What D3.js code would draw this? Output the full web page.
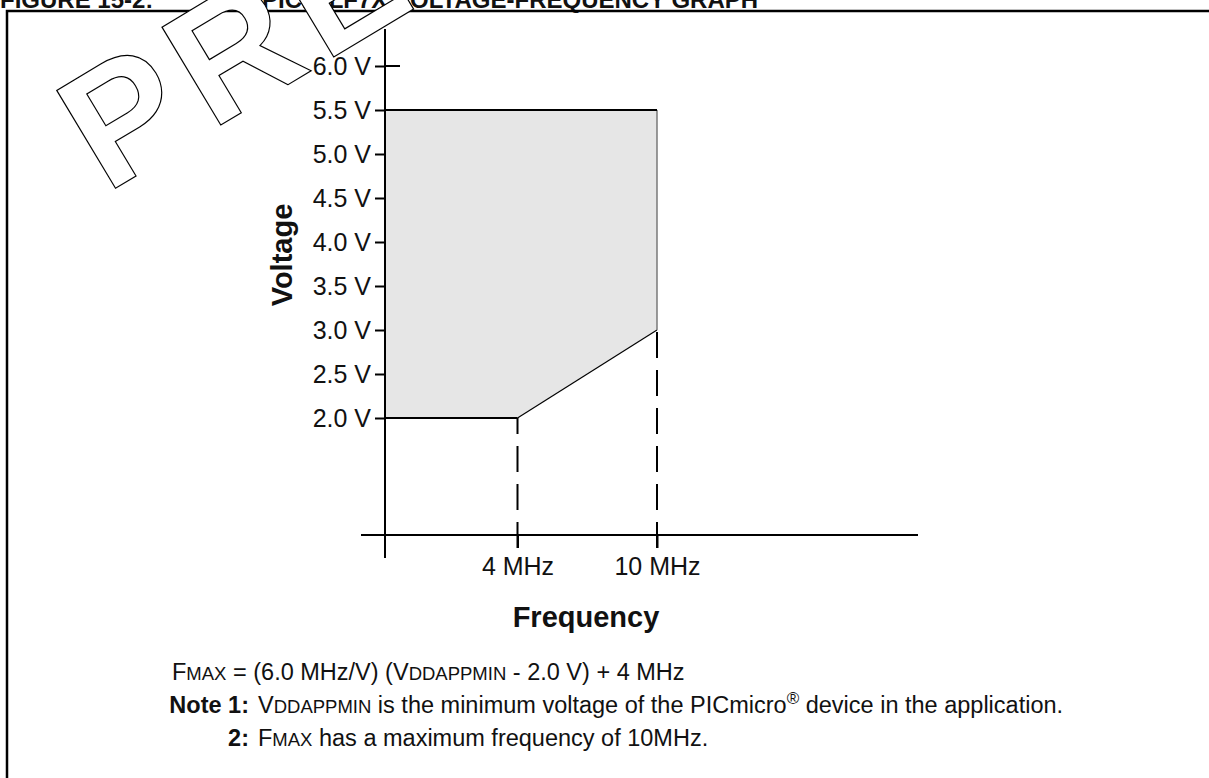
<!DOCTYPE html>
<html>
<head>
<meta charset="utf-8">
<script src="https://cdn.jsdelivr.net/npm/d3@7"></script>
<style>
  html, body { margin: 0; padding: 0; background: #fff; }
  svg { display: block; font-family: "Liberation Sans", Arial, Helvetica, sans-serif; }
</style>
</head>
<body>
<svg id="chart" width="1209" height="778"></svg>
<script>
// Voltage axis ticks (V)
const voltageTicks = [2.0, 2.5, 3.0, 3.5, 4.0, 4.5, 5.0, 5.5, 6.0];
// Frequency axis ticks (MHz) and their labels
const freqTicks = [4, 10];
const freqTickLabels = ["4 MHz", "10 MHz"];
// Corners of the valid operating region (frequency in MHz, voltage in V)
const regionFreq = [0, 4, 10, 10, 0];
const regionVolt = [2.0, 2.0, 3.0, 5.5, 5.5];

const FONT = '"Liberation Sans", Arial, Helvetica, sans-serif';
const svg = d3.select("#chart");

// Schematic axes: frequency is spaced by breakpoint, voltage is linear
const x = d3.scaleLinear().domain([0, 4, 10]).range([385, 517.5, 657]);
const y = d3.scaleLinear().domain([2, 6]).range([418, 66]);
const xAxisY = 535;

const corners = regionFreq.map((f, i) => [x(f), y(regionVolt[i])]);

// Shaded operating region
svg.append("path")
  .attr("d", d3.line()(corners) + "Z")
  .attr("fill", "#e6e6e6")
  .attr("stroke", "none");

// Dashed drop lines from the lower boundary breakpoints to the frequency axis
const drops = [1, 2].map(i => ({ f: regionFreq[i], v: regionVolt[i] }));
svg.selectAll("path.drop")
  .data(drops)
  .join("path")
  .attr("class", "drop")
  .attr("d", d => d3.line()([[x(d.f), xAxisY + 13], [x(d.f), y(d.v)]]))
  .attr("fill", "none")
  .attr("stroke", "#000")
  .attr("stroke-width", 2)
  .attr("stroke-dasharray", "26 12");

// Region edges
const edge = (a, b, w, c) => svg.append("path")
  .attr("d", d3.line()([corners[a], corners[b]]))
  .attr("fill", "none").attr("stroke", c).attr("stroke-width", w);
edge(0, 1, 2, "#000");      // minimum voltage
edge(1, 2, 1.2, "#000");    // rising Fmax limit
edge(2, 3, 1.4, "#707070"); // maximum frequency
edge(3, 4, 2.2, "#000");    // maximum voltage

// Voltage axis
const gy = svg.append("g")
  .attr("transform", `translate(${x(0)},0)`)
  .call(d3.axisLeft(y)
    .tickValues(voltageTicks)
    .tickSize(10)
    .tickPadding(4)
    .tickFormat(d => d.toFixed(1) + " V"));
gy.attr("font-size", null).attr("font-family", null);
gy.select(".domain").remove();
gy.selectAll(".tick line").attr("stroke", "#000").attr("stroke-width", 2);
gy.selectAll(".tick text")
  .attr("font-family", FONT).attr("font-size", 25).attr("fill", "#111");
// the top tick crosses the axis
svg.append("line")
  .attr("x1", x(0)).attr("x2", x(0) + 15)
  .attr("y1", y(6)).attr("y2", y(6))
  .attr("stroke", "#000").attr("stroke-width", 2);
svg.append("line")
  .attr("x1", x(0)).attr("x2", x(0))
  .attr("y1", 29).attr("y2", 558)
  .attr("stroke", "#000").attr("stroke-width", 2);

// Frequency axis
const gx = svg.append("g")
  .attr("transform", `translate(0,${xAxisY})`)
  .call(d3.axisBottom(x)
    .tickValues(freqTicks)
    .tickSize(13)
    .tickPadding(9)
    .tickFormat((d, i) => freqTickLabels[i]));
gx.attr("font-size", null).attr("font-family", null);
gx.select(".domain").remove();
gx.selectAll(".tick line").attr("stroke", "#000").attr("stroke-width", 2);
gx.selectAll(".tick text")
  .attr("font-family", FONT).attr("font-size", 25).attr("fill", "#111");
svg.append("line")
  .attr("x1", 361).attr("x2", 918)
  .attr("y1", xAxisY).attr("y2", xAxisY)
  .attr("stroke", "#000").attr("stroke-width", 2);

// Axis titles
svg.append("text")
  .attr("transform", "translate(292,255) rotate(-90)")
  .attr("text-anchor", "middle")
  .attr("font-weight", "bold").attr("font-size", 29).attr("fill", "#111")
  .text("Voltage");
svg.append("text")
  .attr("x", 586).attr("y", 627)
  .attr("text-anchor", "middle")
  .attr("font-weight", "bold").attr("font-size", 29).attr("fill", "#111")
  .text("Frequency");

// Formula and notes
const BODY = 23.5, SMALL = 18.5;
function richLine(xPos, yPos, parts) {
  const t = svg.append("text").attr("x", xPos).attr("y", yPos)
    .attr("font-size", BODY).attr("fill", "#111");
  parts.forEach(p => {
    const s = t.append("tspan").text(p.t);
    if (p.small) s.attr("font-size", SMALL);
    if (p.bold) s.attr("font-weight", "bold");
    if (p.sup) s.attr("font-size", 17).attr("baseline-shift", "super");
  });
  return t;
}
richLine(172, 680, [
  { t: "F" }, { t: "MAX", small: true },
  { t: " = (6.0 MHz/V) (V" }, { t: "DDAPPMIN", small: true },
  { t: " - 2.0 V) + 4 MHz" }
]);
svg.append("text").attr("x", 249).attr("y", 713).attr("text-anchor", "end")
  .attr("font-size", BODY).attr("font-weight", "bold").attr("fill", "#111")
  .text("Note 1:");
richLine(258, 713, [
  { t: "V" }, { t: "DDAPPMIN", small: true },
  { t: " is the minimum voltage of the PICmicro" }, { t: "®", sup: true },
  { t: " device in the application." }
]);
svg.append("text").attr("x", 249).attr("y", 746).attr("text-anchor", "end")
  .attr("font-size", BODY).attr("font-weight", "bold").attr("fill", "#111")
  .text("2:");
richLine(258, 746, [
  { t: "F" }, { t: "MAX", small: true },
  { t: " has a maximum frequency of 10MHz." }
]);

// Figure caption (runs off the top edge)
svg.append("text")
  .attr("x", 0).attr("y", 7.5)
  .attr("font-size", 24).attr("font-weight", "bold").attr("fill", "#111")
  .text("FIGURE 15-2:");
svg.append("text")
  .attr("x", 262).attr("y", 7.5)
  .attr("font-size", 24).attr("font-weight", "bold").attr("fill", "#111")
  .text("PIC16LF7X VOLTAGE-FREQUENCY GRAPH");

// Figure frame
svg.append("path")
  .attr("d", "M7,778 V11 H1209")
  .attr("fill", "none").attr("stroke", "#000").attr("stroke-width", 2.5);

// Outlined draft stamp
svg.append("text")
  .attr("transform", "translate(106,194) rotate(-31)")
  .attr("font-size", 166).attr("font-weight", "bold")
  .attr("letter-spacing", 12)
  .attr("fill", "#fff").attr("stroke", "#000").attr("stroke-width", 1.2)
  .text("PRELIMINARY");
</script>
</body>
</html>
